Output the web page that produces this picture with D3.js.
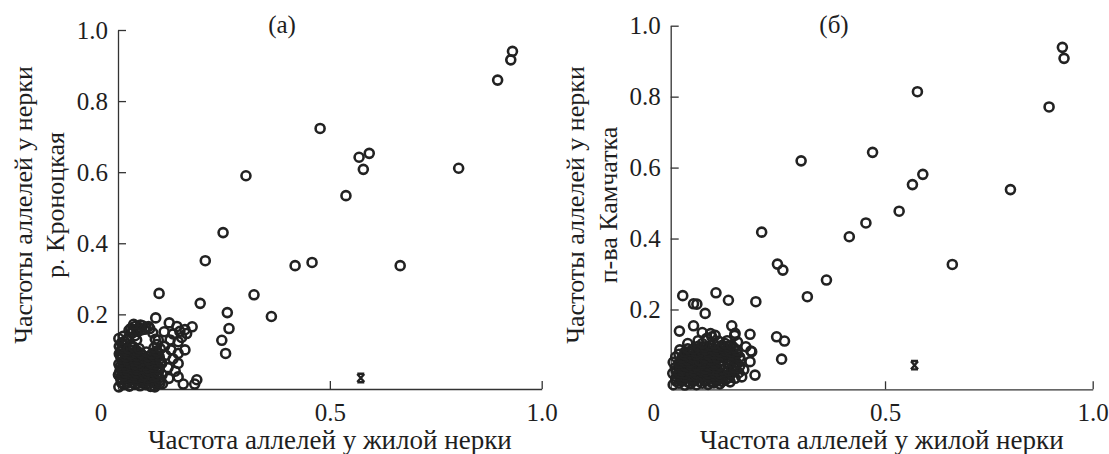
<!DOCTYPE html>
<html>
<head>
<meta charset="utf-8">
<script src="https://cdn.jsdelivr.net/npm/d3@7"></script>
<style>
  html, body { margin: 0; padding: 0; background: #fff; }
</style>
</head>
<body>
<svg id="chart" width="1109" height="454"></svg>
<script>
// two scatter panels: resident sockeye allele freqs vs Kronotskaya (а) / Kamchatka (б)

const X_TICKS = [0.5, 1.0];
const Y_TICKS = [0.2, 0.4, 0.6, 0.8, 1.0];

const X_TITLE = "Частота аллелей у жилой нерки";
const Y_TITLE_A = ["Частоты аллелей у нерки", "р. Кроноцкая"];
const Y_TITLE_B = ["Частоты аллелей у нерки", "п-ва Камчатка"];

// (а) resident vs r. Kronotskaya — [x, y]
const kronotskayaPts = [
  [0.931,0.940],[0.927,0.916],[0.896,0.859],[0.477,0.723],[0.593,0.653],[0.569,0.642],
  [0.579,0.608],[0.804,0.611],[0.302,0.590],[0.538,0.534],[0.248,0.430],[0.206,0.351],
  [0.418,0.337],[0.458,0.346],[0.666,0.337],[0.097,0.259],[0.321,0.255],[0.194,0.231],
  [0.258,0.205],[0.362,0.194],[0.262,0.160],[0.245,0.127],[0.254,0.090],[0.186,0.016],
  [0.181,0.004],
  [0.089,0.190],[0.121,0.176],[0.139,0.166],[0.158,0.157],[0.175,0.165],[0.146,0.152],
  [0.109,0.151],[0.162,0.146],[0.095,0.128],[0.123,0.128],[0.142,0.123],[0.158,0.100],
  [0.142,0.090],[0.142,0.062],[0.125,0.100],[0.110,0.110],[0.130,0.075],[0.118,0.050],
  [0.135,0.040],[0.142,0.024],[0.154,0.004],[0.120,0.020],[0.105,0.005],[0.087,-0.004],
  [0.113,0.085],[0.150,0.135],[0.130,0.145],
  [0.015,0.123],[0.044,0.128],[0.030,0.114],[0.040,0.140],[0.030,0.160],[0.040,0.166],
  [0.050,0.162],[0.058,0.168],[0.066,0.163],[0.075,0.160],[0.047,0.152],[0.034,0.148],
  [0.092,0.115],[0.088,0.130],[0.082,0.148],
  [0.035,0.157],[0.045,0.158],[0.055,0.156],[0.063,0.158],[0.072,0.166],[0.026,0.155],
  [0.053,0.170],[0.037,0.172],
  [0.003,0.110],[0.008,0.120],[0.002,0.132],[0.020,0.128],[0.012,0.138],[0.025,0.135],
  [0.002,-0.004],[0.014,0.002],[0.027,-0.002],[0.040,0.003],[0.052,-0.001],[0.065,0.002],
  [0.077,-0.003],[0.090,0.004],
  [0.008,0.008],[0.021,0.006],[0.035,0.009],[0.047,0.006],[0.060,0.010],[0.073,0.007],
  [0.086,0.009],[0.099,0.006],
  [0.007,0.016],[0.019,0.012],[0.033,0.017],[0.046,0.013],[0.058,0.018],[0.071,0.014],
  [0.084,0.017],[0.097,0.012],
  [0.006,0.022],[0.019,0.021],[0.032,0.024],[0.045,0.021],[0.058,0.025],[0.071,0.021],
  [0.084,0.024],[0.097,0.021],
  [0.001,0.030],[0.013,0.027],[0.026,0.032],[0.039,0.029],[0.051,0.033],[0.064,0.028],
  [0.078,0.031],[0.091,0.027],[0.104,0.030],
  [0.004,0.038],[0.017,0.036],[0.030,0.039],[0.043,0.036],[0.056,0.040],[0.069,0.035],
  [0.082,0.039],[0.095,0.036],
  [0.007,0.045],[0.020,0.043],[0.032,0.047],[0.045,0.044],[0.057,0.048],[0.070,0.042],
  [0.083,0.046],[0.096,0.044],
  [0.005,0.053],[0.018,0.051],[0.031,0.054],[0.044,0.051],[0.057,0.055],[0.070,0.050],
  [0.083,0.053],[0.096,0.051],
  [0.002,0.060],[0.014,0.058],[0.027,0.062],[0.040,0.059],[0.052,0.063],[0.065,0.057],
  [0.078,0.061],[0.090,0.059],[0.103,0.062],
  [0.010,0.067],[0.023,0.066],[0.036,0.069],[0.049,0.066],[0.062,0.070],[0.075,0.065],
  [0.088,0.068],[0.101,0.067],
  [0.008,0.075],[0.021,0.073],[0.034,0.077],[0.046,0.074],[0.059,0.078],[0.072,0.072],
  [0.085,0.076],[0.098,0.074],
  [0.006,0.082],[0.019,0.081],[0.032,0.084],[0.045,0.082],[0.058,0.085],[0.071,0.081],
  [0.084,0.083],[0.097,0.082],
  [0.003,0.089],[0.016,0.092],[0.029,0.088],[0.041,0.093],[0.054,0.090],[0.067,0.094],
  [0.080,0.089],[0.093,0.092],
  [0.007,0.098],[0.020,0.097],[0.033,0.099],[0.045,0.097],[0.090,0.097],
  [0.010,0.105],[0.024,0.103],[0.037,0.108],[0.050,0.104],[0.085,0.106],[0.100,0.103]
];
const kronotskayaOdd = [[0.573, 0.021]];

// (б) resident vs Kamchatka peninsula — [x, y]
const kamchatkaPts = [
  [0.927,0.939],[0.931,0.908],[0.895,0.771],[0.578,0.814],[0.470,0.643],[0.298,0.619],
  [0.591,0.581],[0.566,0.552],[0.802,0.538],[0.534,0.477],[0.454,0.444],[0.414,0.405],
  [0.203,0.418],[0.241,0.328],[0.254,0.311],[0.662,0.327],[0.359,0.283],[0.313,0.236],
  [0.189,0.222],[0.123,0.226],[0.093,0.247],[0.013,0.239],[0.039,0.216],[0.047,0.215],
  [0.067,0.189],[0.005,0.139],[0.039,0.154],[0.131,0.154],[0.175,0.130],[0.239,0.123],
  [0.258,0.111],[0.138,0.127],[0.177,0.083],[0.251,0.060],[0.187,0.015],[0.091,0.127],
  [0.006,0.086],
  [0.179,0.081],[0.175,0.053],[0.139,0.006],[0.115,0.001],[0.127,-0.004],[0.160,0.030],
  [0.155,0.010],[0.165,0.095],[0.145,0.108],[0.120,0.112],[0.100,0.110],[0.070,0.118],
  [0.050,0.112],[0.025,0.104],[0.060,0.135],[0.080,0.132],[0.139,0.133],[0.083,0.123],
  [-0.010,-0.012],[0.004,-0.008],[0.018,-0.013],[0.032,-0.009],[0.046,-0.012],[0.060,-0.008],
  [0.074,-0.011],[0.088,-0.007],[0.102,-0.010],
  [-0.003,-0.002],[0.011,-0.001],[0.025,-0.004],[0.039,0.000],[0.053,-0.003],[0.067,-0.001],
  [0.081,-0.004],[0.095,-0.001],[0.108,-0.003],
  [-0.004,0.005],[0.011,0.003],[0.025,0.007],[0.039,0.004],[0.053,0.008],[0.067,0.003],
  [0.081,0.006],[0.095,0.004],[0.109,0.007],
  [0.004,0.013],[0.018,0.011],[0.032,0.014],[0.046,0.012],[0.060,0.015],[0.074,0.011],
  [0.088,0.014],[0.102,0.012],[0.116,0.014],[0.124,0.008],
  [-0.011,0.020],[0.004,0.022],[0.018,0.019],[0.032,0.023],[0.046,0.020],[0.060,0.024],
  [0.074,0.019],[0.088,0.022],[0.102,0.020],[0.116,0.023],[0.130,0.019],
  [-0.003,0.028],[0.011,0.027],[0.025,0.030],[0.039,0.027],[0.053,0.030],[0.067,0.026],
  [0.081,0.029],[0.095,0.027],[0.109,0.030],[0.123,0.026],[0.137,0.028],[0.148,0.022],
  [-0.005,0.036],[0.011,0.034],[0.025,0.038],[0.039,0.035],[0.053,0.037],[0.067,0.033],
  [0.081,0.038],[0.095,0.035],[0.123,0.034],[0.137,0.036],
  [0.004,0.043],[0.018,0.042],[0.032,0.044],[0.046,0.041],[0.060,0.045],[0.074,0.042],
  [0.088,0.044],[0.102,0.041],[0.137,0.043],[0.150,0.040],
  [-0.010,0.051],[0.004,0.049],[0.018,0.053],[0.032,0.050],[0.046,0.054],[0.060,0.049],
  [0.074,0.052],[0.088,0.050],[0.102,0.053],[0.130,0.051],[0.144,0.048],
  [0.011,0.058],[0.025,0.057],[0.039,0.060],[0.053,0.056],[0.067,0.059],[0.081,0.057],
  [0.095,0.060],[0.109,0.056],[0.123,0.059],[0.137,0.057],[0.152,0.058],
  [-0.004,0.066],[0.011,0.064],[0.025,0.068],[0.039,0.065],[0.053,0.069],[0.067,0.064],
  [0.081,0.067],[0.095,0.065],[0.109,0.068],[0.123,0.066],[0.137,0.069],[0.150,0.066],
  [0.004,0.074],[0.018,0.072],[0.032,0.075],[0.046,0.072],[0.060,0.076],[0.074,0.073],
  [0.088,0.075],[0.102,0.073],[0.116,0.076],[0.130,0.072],[0.144,0.075],
  [0.018,0.080],[0.032,0.083],[0.046,0.079],[0.060,0.082],[0.074,0.080],[0.088,0.084],
  [0.102,0.081],[0.116,0.083],[0.130,0.080],[0.144,0.084],
  [0.025,0.089],[0.039,0.088],[0.053,0.090],[0.067,0.087],[0.081,0.090],[0.095,0.088],
  [0.109,0.091],[0.123,0.088],[0.137,0.091],
  [0.050,0.096],[0.066,0.094],[0.080,0.098],[0.094,0.095],[0.108,0.099],[0.122,0.096],
  [0.060,0.104],[0.088,0.103],[0.115,0.104],[0.130,0.100]
];
const kamchatkaOdd = [[0.571, 0.043]];

const INK = "#222";
const FONT = "'Liberation Serif', 'Times New Roman', Times, 'DejaVu Serif', serif";
const fmt = d3.format(".1f");
const svg = d3.select("#chart");

// serif everywhere, set as inline style so nothing overrides it
function serif(sel, size) {
  return sel.style("font-family", FONT).style("font-size", size + "px").style("fill", "#1e1e1e");
}

function panel(p) {
  const x = d3.scaleLinear().domain(p.xDom).range(p.xRange);
  const y = d3.scaleLinear().domain(p.yDom).range(p.yRange);
  const g = svg.append("g");

  // axes — ticks point inward
  const xa = g.append("g")
    .attr("transform", "translate(0," + p.yRange[0] + ")")
    .call(d3.axisBottom(x).tickValues(X_TICKS).tickSizeInner(-8).tickSizeOuter(0)
      .tickPadding(14).tickFormat(fmt));
  const ya = g.append("g")
    .attr("transform", "translate(" + p.xRange[0] + ",0)")
    .call(d3.axisLeft(y).tickValues(Y_TICKS).tickSizeInner(-8).tickSizeOuter(0)
      .tickPadding(10).tickFormat(fmt));
  [xa, ya].forEach(function (a) {
    a.select(".domain").attr("stroke", "#333").attr("stroke-width", 1.3);
    a.selectAll(".tick line").attr("stroke", "#333").attr("stroke-width", 1.3);
    serif(a.selectAll("text"), 25);
  });

  // origin label, sits left of the corner
  serif(g.append("text"), 25)
    .attr("x", p.xRange[0] - 17).attr("y", p.yRange[0] + 14)
    .attr("dy", "0.71em")
    .attr("text-anchor", "middle")
    .text("0");

  // circles
  g.append("g").selectAll("circle")
    .data(p.pts)
    .join("circle")
    .attr("cx", d => x(d[0])).attr("cy", d => y(d[1]))
    .attr("r", 4.5)
    .attr("fill", "none")
    .attr("stroke", INK)
    .attr("stroke-width", 2.6);

  // odd marker (bold x with bars)
  g.append("g").selectAll("path")
    .data(p.odd)
    .join("path")
    .attr("transform", d => "translate(" + x(d[0]) + "," + y(d[1]) + ")")
    .attr("d", "M-3.5,-4L3.5,4M3.5,-4L-3.5,4M-3.5,-4.2L3.5,-4.2M-3.5,4.2L3.5,4.2")
    .attr("fill", "none")
    .attr("stroke", INK)
    .attr("stroke-width", 2.4);

  // titles
  serif(g.append("text"), 27)
    .attr("x", (p.xRange[0] + p.xRange[1]) / 2).attr("y", 449)
    .attr("text-anchor", "middle")
    .text(X_TITLE);

  p.yTitle.forEach(function (line, i) {
    serif(g.append("text"), 26)
      .attr("transform", "translate(" + p.yTitleX[i] + ",205) rotate(-90)")
      .attr("text-anchor", "middle")
      .attr("dy", "0.35em")
      .text(line);
  });

  serif(g.append("text"), 25)
    .attr("x", p.labelX).attr("y", 33)
    .attr("text-anchor", "middle")
    .text(p.label);
}

panel({
  xDom: [0, 1], xRange: [118, 541.7],
  yDom: [-0.01, 1], yRange: [389, 30],
  pts: kronotskayaPts, odd: kronotskayaOdd,
  yTitle: Y_TITLE_A, yTitleX: [23, 55],
  label: "(а)", labelX: 282
});

panel({
  xDom: [-0.016, 1], xRange: [670.7, 1092.7],
  yDom: [-0.025, 1], yRange: [389.3, 25.7],
  pts: kamchatkaPts, odd: kamchatkaOdd,
  yTitle: Y_TITLE_B, yTitleX: [575, 608],
  label: "(б)", labelX: 834
});
</script>
</body>
</html>
